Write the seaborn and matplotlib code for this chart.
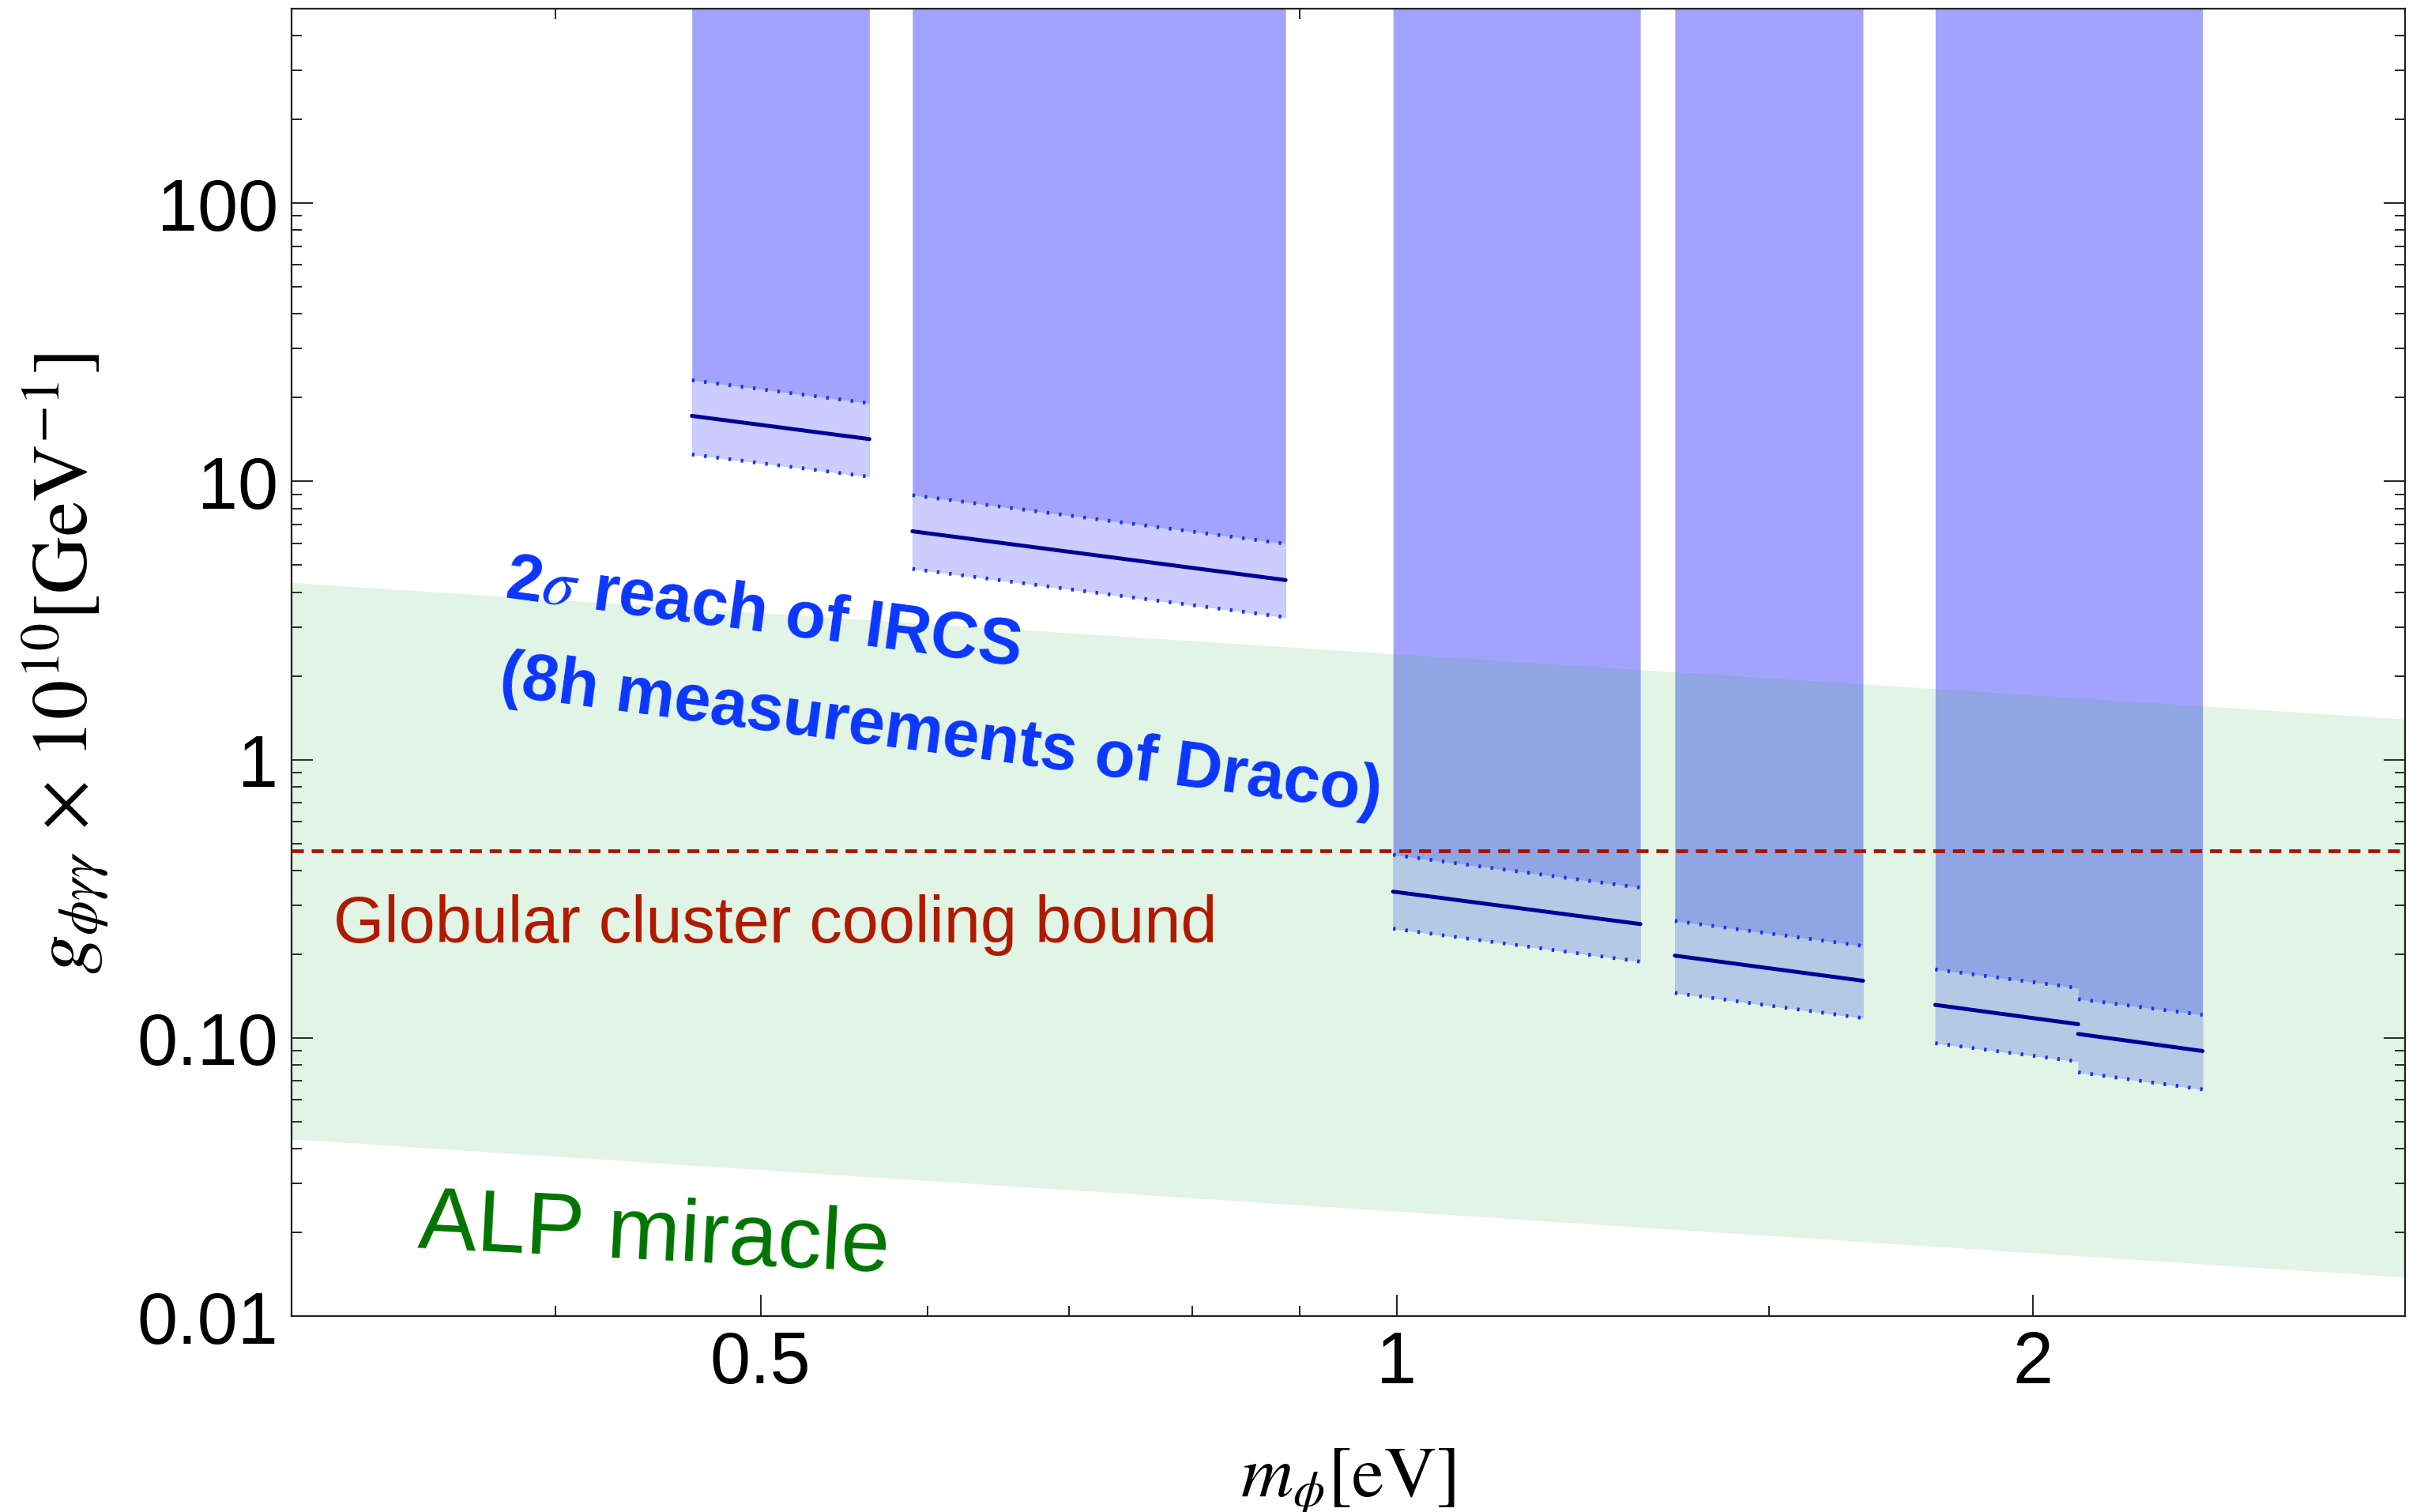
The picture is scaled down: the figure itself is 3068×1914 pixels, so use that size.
import numpy as np
import pandas as pd
import seaborn as sns
import matplotlib.pyplot as plt
from matplotlib.ticker import FixedLocator, FixedFormatter, NullFormatter, LogLocator

# IRCS bands: mass edges [eV]
band_lo = [0.464, 0.590, 0.996, 1.354, 1.798, 2.101]
band_hi = [0.563, 0.886, 1.304, 1.662, 2.101, 2.406]
# 2 sigma reach (g x 1e10 [GeV^-1]) at the low / high edge of each band
reach_lo = [17.2, 6.62, 0.3355, 0.1975, 0.1314, 0.1033]
reach_hi = [14.2, 4.42, 0.2565, 0.1604, 0.112, 0.0897]
upper_lo = [23.1, 8.93, 0.455, 0.2634, 0.1763, 0.1378]
upper_hi = [19.1, 5.97, 0.3466, 0.214, 0.151, 0.121]
lower_lo = [12.5, 4.85, 0.247, 0.145, 0.0957, 0.0752]
lower_hi = [10.4, 3.25, 0.188, 0.1178, 0.0822, 0.0653]

# ALP miracle band
alp_mass = [0.3, 3.0]
alp_upper = [4.33, 1.40]
alp_lower = [0.0433, 0.0138]

# globular cluster cooling bound
gc_bound = 0.47

xticks = [0.5, 1, 2]
xtick_labels = ['0.5', '1', '2']
xminor = [0.4, 0.6, 0.7, 0.8, 0.9, 1.5]
yticks = [0.01, 0.1, 1, 10, 100]
ytick_labels = ['0.01', '0.10', '1', '10', '100']

DARK = '#a3a3fe'
LIGHT = '#ccccfe'
NAVY = '#000096'
DOT = '#1033ff'


def main():
    sns.set_theme(style='ticks')
    plt.rcParams['font.family'] = ['Liberation Sans', 'DejaVu Sans']
    plt.rcParams['mathtext.fontset'] = 'stix'

    fig = plt.figure(figsize=(15.34, 9.575), dpi=200)
    ax = fig.add_axes([0.1203, 0.1295, 0.9922 - 0.1203, 0.9937 - 0.1295])
    ax.set_xscale('log')
    ax.set_yscale('log')
    ax.set_xlim(0.3, 3.0)
    ax.set_ylim(0.01, 500)

    # group adjacent bands so the fills have no seam
    groups = []
    for i in range(len(band_lo)):
        if groups and abs(band_lo[i] - band_hi[i - 1]) < 1e-9:
            groups[-1].append(i)
        else:
            groups.append([i])
    for g in groups:
        x = np.ravel([[band_lo[i], band_hi[i]] for i in g])
        up = np.ravel([[upper_lo[i], upper_hi[i]] for i in g])
        lo = np.ravel([[lower_lo[i], lower_hi[i]] for i in g])
        ax.fill_between(x, lo, 1e4, color=DARK, lw=0, zorder=1)
        ax.fill_between(x, lo, up, color=LIGHT, lw=0, zorder=1.1)

    # ALP miracle band (tints whatever lies below)
    ax.fill_between(alp_mass, alp_lower, alp_upper, color='#16ac2f',
                    alpha=0.12, lw=0, zorder=2)

    # lines, one segment per band
    rows = []
    for i in range(len(band_lo)):
        for kind, a, b in [('reach', reach_lo, reach_hi),
                           ('upper', upper_lo, upper_hi),
                           ('lower', lower_lo, lower_hi)]:
            rows.append((i, kind, band_lo[i], a[i]))
            rows.append((i, kind, band_hi[i], b[i]))
    df = pd.DataFrame(rows, columns=['seg', 'kind', 'mass', 'g'])

    sns.lineplot(data=df[df.kind == 'reach'], x='mass', y='g', units='seg',
                 estimator=None, color=NAVY, lw=1.8, ax=ax, zorder=4)
    for kind in ['upper', 'lower']:
        sns.lineplot(data=df[df.kind == kind], x='mass', y='g', units='seg',
                     estimator=None, color=DOT, lw=1.7, ax=ax, zorder=4,
                     linestyle=(0, (0.7, 2.6)))

    ax.axhline(gc_bound, color='#a81400', lw=1.7, ls=(0, (3.2, 2.1)), zorder=5)

    # annotations
    ax.text(0.378, 3.85, r'2$\sigma$ reach of IRCS', rotation=-7.6,
            rotation_mode='anchor', ha='left', va='baseline',
            color='#0a36ff', fontsize=30, fontweight='bold', zorder=6)
    ax.text(0.3756, 1.73, '(8h measurements of Draco)', rotation=-7.6,
            rotation_mode='anchor', ha='left', va='baseline',
            color='#0a36ff', fontsize=30, fontweight='bold', zorder=6)
    ax.text(0.3140, 0.222, 'Globular cluster cooling bound', ha='left',
            va='baseline', color='#b01a00', fontsize=29.8, zorder=6)
    ax.text(0.3440, 0.0178, 'ALP miracle', rotation=-3, rotation_mode='anchor',
            ha='left', va='baseline', color='#007400', fontsize=40, zorder=6)

    # axes and ticks
    ax.xaxis.set_major_locator(FixedLocator(xticks))
    ax.xaxis.set_major_formatter(FixedFormatter(xtick_labels))
    ax.xaxis.set_minor_locator(FixedLocator(xminor))
    ax.xaxis.set_minor_formatter(NullFormatter())
    ax.yaxis.set_major_locator(FixedLocator(yticks))
    ax.yaxis.set_major_formatter(FixedFormatter(ytick_labels))
    ax.yaxis.set_minor_locator(LogLocator(base=10, subs=np.arange(2, 10), numticks=20))
    ax.yaxis.set_minor_formatter(NullFormatter())

    ax.tick_params(which='both', direction='in', top=True, right=True,
                   width=0.7, color='#222222', labelcolor='black')
    ax.tick_params(which='major', length=9.7)
    ax.tick_params(which='minor', length=4.7)
    ax.tick_params(axis='x', which='major', labelsize=33, pad=6)
    ax.tick_params(axis='y', which='major', labelsize=33, pad=6)
    for s in ax.spines.values():
        s.set_linewidth(0.8)
        s.set_color('#222222')

    ax.set_xlabel(r'$m_\phi[\mathrm{eV}]$', fontsize=33, labelpad=22,
                  color='black')
    ax.set_ylabel(r'$g_{\phi\gamma\gamma}\,\times\,10^{10}[\mathrm{GeV}^{-1}]$',
                  fontsize=36, labelpad=12, color='black')

    fig.savefig('out.png', dpi=200)


if __name__ == '__main__':
    main()
